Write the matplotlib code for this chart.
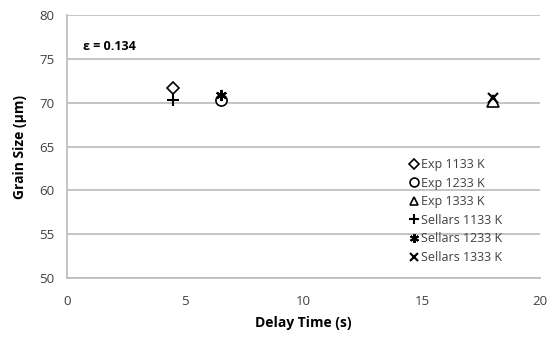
import matplotlib
matplotlib.use("Agg")
import matplotlib.pyplot as plt

plt.rcParams['font.family'] = ['Open Sans', 'DejaVu Sans']

# data
exp_1133_t = [4.5]
exp_1133_d = [71.7]
exp_1233_t = [6.5]
exp_1233_d = [70.3]
exp_1333_t = [18]
exp_1333_d = [70.2]
sel_1133_t = [4.5]
sel_1133_d = [70.3]
sel_1233_t = [6.5]
sel_1233_d = [70.9]
sel_1333_t = [18]
sel_1333_d = [70.5]

labels = ['Exp 1133 K', 'Exp 1233 K', 'Exp 1333 K',
          'Sellars 1133 K', 'Sellars 1233 K', 'Sellars 1333 K']
xticks = [0, 5, 10, 15, 20]
yticks = [50, 55, 60, 65, 70, 75, 80]

fig = plt.figure(figsize=(5.49, 3.37), dpi=100)
ax = fig.add_axes([0.122, 0.175, 0.862, 0.78])

ax.plot(exp_1133_t, exp_1133_d, 'D', ms=6, mfc='white', mec='black', mew=1.2, ls='none', label=labels[0])
ax.plot(exp_1233_t, exp_1233_d, 'o', ms=8, mfc='white', mec='black', mew=1.2, ls='none', label=labels[1])
ax.plot(exp_1333_t, exp_1333_d, '^', ms=8, mfc='white', mec='black', mew=1.2, ls='none', label=labels[2])
ax.plot(sel_1133_t, sel_1133_d, '+', ms=9, mec='black', mew=1.5, ls='none', label=labels[3])
ax.plot(sel_1233_t, sel_1233_d, marker=(6, 2, 0), ms=8, mec='black', mew=1.5, ls='none', label=labels[4])
ax.plot(sel_1333_t, sel_1333_d, 'x', ms=7, mec='black', mew=1.5, ls='none', label=labels[5])

ax.set_xlim(0, 20)
ax.set_ylim(50, 80)
ax.set_xticks(xticks)
ax.set_yticks(yticks)
ax.grid(axis='y', color='#bfbfbf', lw=1.3)
ax.set_axisbelow(True)
for s in ['top', 'right']:
    ax.spines[s].set_visible(False)
for s in ['left', 'bottom']:
    ax.spines[s].set_color('#bfbfbf')
    ax.spines[s].set_linewidth(1.3)
ax.tick_params(length=0, labelsize=9.5, labelcolor='#404040')
ax.tick_params(axis='x', pad=12)
ax.tick_params(axis='y', pad=9)

ax.set_xlabel('Delay Time (s)', fontsize=10, fontweight='bold', labelpad=6)
ax.set_ylabel('Grain Size (μm)', fontsize=10, fontweight='bold', labelpad=9)

ax.text(0.033, 0.88, 'ε = 0.134', transform=ax.transAxes, fontsize=9,
        fontweight='bold', va='center')

leg = ax.legend(loc='lower left', bbox_to_anchor=(0.705, 0.02), frameon=False,
                fontsize=9, handlelength=0.7, handletextpad=0.25,
                labelspacing=0.45, borderpad=0.2, markerscale=0.8,
                labelcolor='#404040')

fig.savefig('out.png', dpi=100)
